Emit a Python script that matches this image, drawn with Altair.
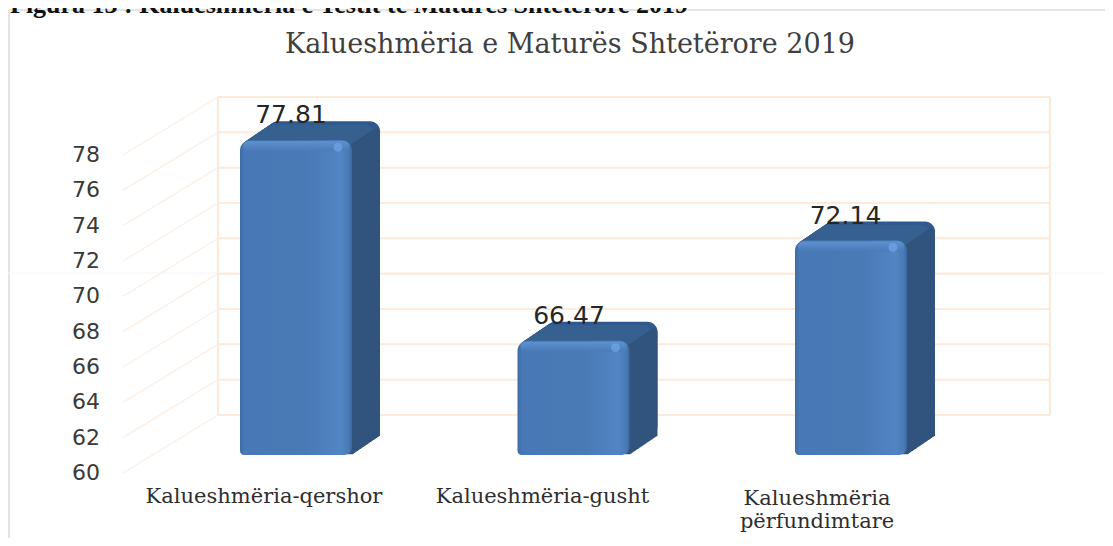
import altair as alt
import pandas as pd

categories = ["Kalueshmëria-qershor", "Kalueshmëria-gusht", "Kalueshmëria përfundimtare"]
values = [77.81, 66.47, 72.14]
ticks = [60, 62, 64, 66, 68, 70, 72, 74, 76, 78]
caption = "Figura 13 : Kalueshmëria e Testit te Matures Shtetërore 2019"
title = "Kalueshmëria e Maturës Shtetërore 2019"
label_lines = [["Kalueshmëria-qershor"], ["Kalueshmëria-gusht"], ["Kalueshmëria", "përfundimtare"]]

df = pd.DataFrame({"cat": categories, "value": values, "base": [60, 60, 60]})
tick_df = pd.DataFrame({"v": ticks, "v2": ticks})

xs = alt.Scale(domain=categories, range=[149.25, 981.75])
ys = alt.Scale(domain=[60, 78], range=[407, 89], zero=False, nice=False)
X = alt.X("cat:N", scale=xs, axis=None, sort=None)
Y = alt.Y("value:Q", scale=ys, axis=None)
Y2 = alt.Y2("base:Q")
WALL = "#fdeadb"
DEPTH_X, DEPTH_Y, FRONT_DROP, BAR_W = 28, 19, 40, 112

layers = []

# page furniture
furn = alt.Chart(pd.DataFrame({"a": [0]}))
layers.append(furn.mark_rule(color="#e4e4e4", strokeWidth=2).encode(x=alt.value(1), y=alt.value(2), y2=alt.value(530)))
layers.append(furn.mark_rule(color="#e4e4e4", strokeWidth=2).encode(x=alt.value(1), x2=alt.value(1097), y=alt.value(2)))
layers.append(furn.mark_rule(color="#f6f6f6", strokeWidth=1).encode(x=alt.value(0), x2=alt.value(1097), y=alt.value(265)))

# back wall gridlines
layers.append(alt.Chart(tick_df).mark_rule(color=WALL, strokeWidth=2).encode(
    x=alt.value(210), x2=alt.value(1042), y=alt.Y("v:Q", scale=ys, axis=None)))
# y tick labels on the front plane
layers.append(alt.Chart(tick_df).mark_text(font="DejaVu Sans", fontSize=22, color="#3a3a3a", align="right",
                                           baseline="middle", yOffset=58).encode(
    x=alt.value(92), y=alt.Y("v:Q", scale=ys, axis=None), text=alt.Text("v:Q", format="d")))
# left wall diagonals
layers.append(alt.Chart(tick_df).mark_rule(color="#fdf0e6", strokeWidth=1.3, yOffset=58).encode(
    x=alt.value(115), x2=alt.value(210), y=alt.Y("v:Q", scale=ys, axis=None), y2=alt.Y2("v2:Q")))
# wall verticals
wall_ends = pd.DataFrame({"lo": [60], "hi": [78]})
for px in (210, 1042):
    layers.append(alt.Chart(wall_ends).mark_rule(color=WALL, strokeWidth=2).encode(
        x=alt.value(px), y=alt.Y("lo:Q", scale=ys, axis=None), y2=alt.Y2("hi:Q")))

bars = alt.Chart(df)
# top face (extruded full bar)
for k in range(DEPTH_X, 0, -1):
    off = FRONT_DROP - k * DEPTH_Y / DEPTH_X
    layers.append(bars.mark_bar(size=BAR_W, xOffset=k, yOffset=off, y2Offset=off, cornerRadius=10, color="#37608f" if k < DEPTH_X - 4 else "#2f5a8e").encode(x=X, y=Y, y2=Y2))
# side face
for k in range(DEPTH_X, 0, -1):
    off = FRONT_DROP - k * DEPTH_Y / DEPTH_X
    layers.append(bars.mark_bar(size=6, xOffset=BAR_W / 2 - 3 + k, yOffset=off + 7, y2Offset=off, color="#31547f",
                                cornerRadiusTopRight=3, cornerRadiusTopLeft=0).encode(x=X, y=Y, y2=Y2))
# front face
front = alt.Gradient(gradient="linear", x1=0, x2=1, y1=0, y2=0, stops=[
    alt.GradientStop(offset=0, color="#3d6ca6"), alt.GradientStop(offset=0.04, color="#4878b5"),
    alt.GradientStop(offset=0.6, color="#4a7ab6"), alt.GradientStop(offset=0.9, color="#5285c5"),
    alt.GradientStop(offset=0.97, color="#4a7ab5"), alt.GradientStop(offset=1, color="#3d689d")])
layers.append(bars.mark_bar(size=BAR_W, yOffset=FRONT_DROP, y2Offset=FRONT_DROP, cornerRadiusTopLeft=10,
                            cornerRadiusTopRight=10, cornerRadiusBottomLeft=4, cornerRadiusBottomRight=8,
                            color=front).encode(x=X, y=Y, y2=Y2))
# top bevel
bevel = alt.Gradient(gradient="linear", x1=0, x2=0, y1=0, y2=1, stops=[
    alt.GradientStop(offset=0, color="#5f93d2"), alt.GradientStop(offset=1, color="#4a7ab6")])
layers.append(bars.mark_bar(size=BAR_W - 6, yOffset=FRONT_DROP + 1, y2Offset=FRONT_DROP + 11, cornerRadius=8, opacity=0.9,
                            color=bevel).encode(x=X, y=Y, y2=alt.Y2("value:Q")))
# highlight
layers.append(bars.mark_circle(size=80, color="#70a5ea", opacity=0.7, xOffset=BAR_W / 2 - 14, yOffset=FRONT_DROP + 7).encode(x=X, y=Y))

# value labels and category labels
for cat, val, dx in zip(categories, values, (-5, -4.5, -5.5)):
    sub = alt.Chart(pd.DataFrame({"cat": [cat], "value": [val]}))
    layers.append(sub.mark_text(font="DejaVu Sans", fontSize=25, color="#262626", align="center", baseline="alphabetic",
                                dx=dx, yOffset=FRONT_DROP - 17).encode(x=X, y=Y, text=alt.Text("value:Q", format=".2f")))

for cat, lines, dx, ys_px in zip(categories, label_lines, (-32, -31, -34), ((495,), (495,), (497, 520))):
    for line, py in zip(lines, ys_px):
        sub = alt.Chart(pd.DataFrame({"cat": [cat], "t": [line]}))
        layers.append(sub.mark_text(font="DejaVu Serif", fontSize=21, color="#2e2e2e", align="center", baseline="alphabetic",
                                    dx=dx).encode(x=X, y=alt.value(py), text="t:N"))

layers.append(alt.Chart(pd.DataFrame({"t": [title]})).mark_text(font="DejaVu Serif", fontSize=27, color="#3f3f3f",
              align="center", baseline="alphabetic").encode(x=alt.value(562), y=alt.value(45), text="t:N"))
layers.append(alt.Chart(pd.DataFrame({"t": [caption]})).mark_text(font="Liberation Serif", fontWeight="bold", fontSize=26,
              color="#111111", align="left", baseline="alphabetic").encode(x=alt.value(2), y=alt.value(5), text="t:N"))

chart = alt.layer(*layers).properties(
    width=1097, height=530, padding=0, background="white",
    autosize=alt.AutoSizeParams(type="none"),
).configure_view(stroke=None)

chart.save("out.html", embed_options={"renderer": "svg", "actions": False})
